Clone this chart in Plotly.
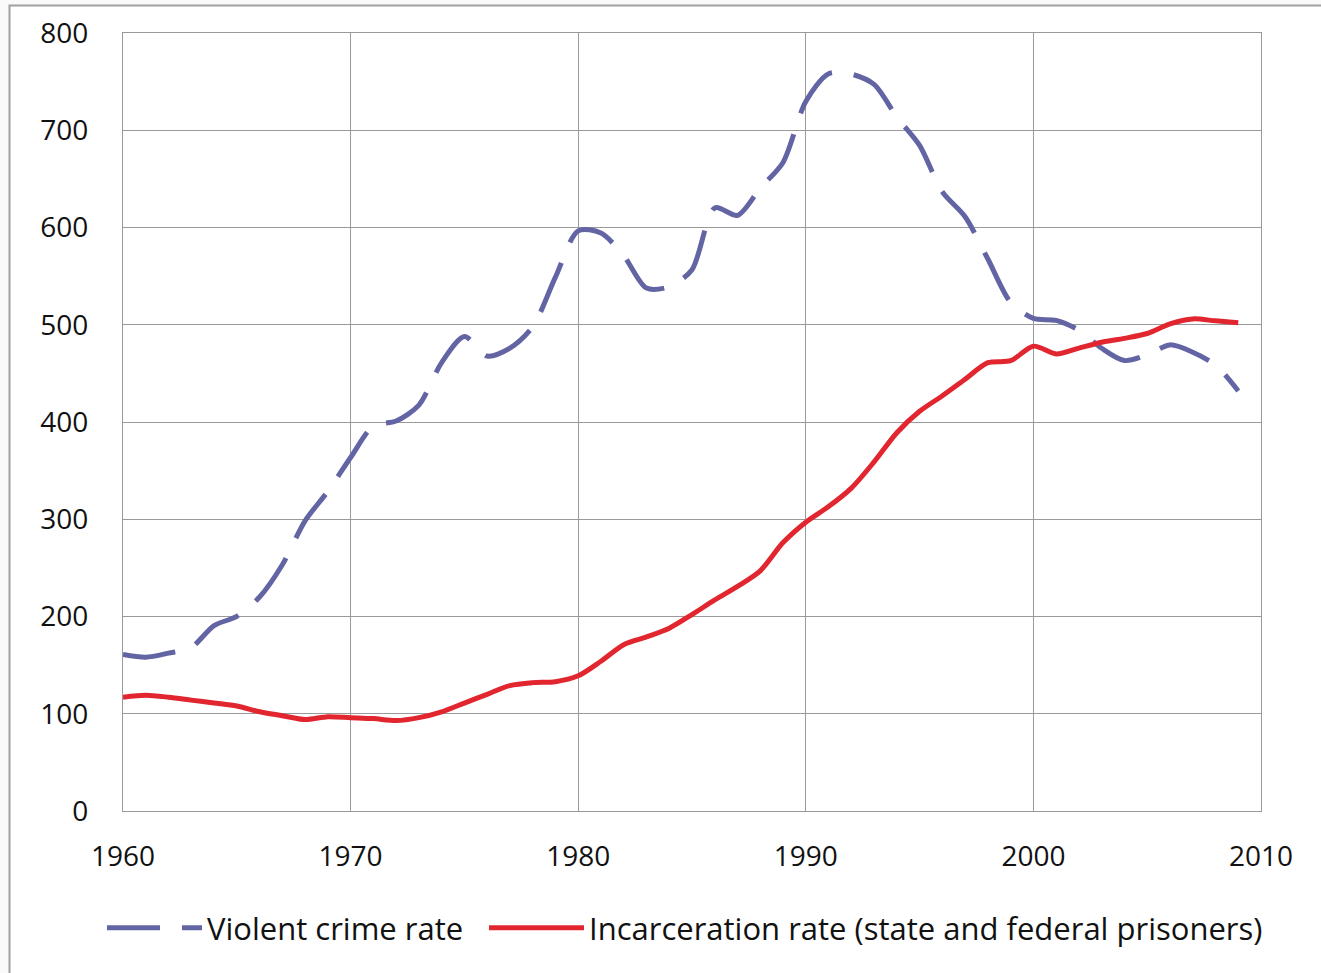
import plotly.graph_objects as go

years = list(range(1960, 2010))
violent_crime = [160.9, 158.1, 162.3, 168.2, 190.6, 200.2, 220.0, 253.2, 298.4, 328.7,
                 363.5, 396.0, 401.0, 417.4, 461.1, 487.8, 467.8, 475.9, 497.8, 548.9,
                 596.6, 594.3, 571.1, 537.7, 539.2, 556.6, 620.1, 612.5, 640.6, 666.9,
                 729.6, 758.2, 757.7, 747.1, 713.6, 684.5, 636.6, 611.0, 567.6, 523.0,
                 506.5, 504.5, 494.4, 475.8, 463.2, 469.0, 479.3, 471.8, 458.6, 431.9]
incarceration = [117, 119, 117, 114, 111, 108, 102, 98, 94, 97,
                 96, 95, 93, 96, 102, 111, 120, 129, 132, 133,
                 139, 154, 171, 179, 188, 202, 217, 231, 247, 276,
                 297, 313, 332, 359, 389, 411, 427, 444, 461, 463,
                 478, 470, 476, 482, 486, 491, 501, 506, 504, 502]
x_ticks = [1960, 1970, 1980, 1990, 2000, 2010]
y_ticks = [0, 100, 200, 300, 400, 500, 600, 700, 800]

FONT = "Open Sans"
W, H = 1321, 973
ML, MR, MT, MB = 123, 60, 33, 162
PW = W - ML - MR
PH = H - MT - MB

fig = go.Figure()
fig.add_trace(go.Scatter(
    x=years, y=violent_crime, mode="lines", name="Violent crime rate",
    line=dict(color="#6264a4", width=5, dash="53px,22px", shape="spline", smoothing=0.8),
    legend="legend",
))
fig.add_trace(go.Scatter(
    x=years, y=incarceration, mode="lines",
    name="Incarceration rate (state and federal prisoners)",
    line=dict(color="#e1262f", width=5, shape="spline", smoothing=0.8),
    legend="legend2",
))

def px_x(p):
    return (p - ML) / PW

def px_y(p):
    return 1 - (p - MT) / PH

# outer frame of the picture
fig.add_shape(type="rect", xref="paper", yref="paper",
              x0=px_x(9.5), x1=px_x(1340), y0=px_y(5.5), y1=px_y(1000),
              line=dict(color="#a0a0a0", width=2), fillcolor="white", layer="below")

legend_common = dict(orientation="h", xanchor="left", y=px_y(928), yanchor="middle",
                     font=dict(family=FONT, size=31, color="#111111"),
                     itemwidth=95, bgcolor="rgba(0,0,0,0)", borderwidth=0)

fig.update_layout(
    width=W, height=H,
    margin=dict(l=ML, r=MR, t=MT, b=MB, autoexpand=False),
    paper_bgcolor="#fafafa", plot_bgcolor="rgba(0,0,0,0)",
    font=dict(family=FONT, size=28, color="#111111"),
    showlegend=True,
    legend=dict(x=px_x(102), **legend_common),
    legend2=dict(x=px_x(484), **legend_common),
)
fig.update_xaxes(range=[1960, 2010], tickvals=x_ticks, ticktext=[str(v) for v in x_ticks],
                 showgrid=True, gridcolor="#9a9a9a", gridwidth=1.3,
                 showline=True, linecolor="#9a9a9a", linewidth=1.3, mirror=True,
                 zeroline=False, ticks="", ticklabelstandoff=20)
fig.update_yaxes(range=[0, 800], tickvals=y_ticks, ticktext=[str(v) for v in y_ticks],
                 showgrid=True, gridcolor="#9a9a9a", gridwidth=1.3,
                 showline=True, linecolor="#9a9a9a", linewidth=1.3, mirror=True,
                 zeroline=False, ticks="", ticklabelstandoff=28)

fig.write_html("out.html", config={"displayModeBar": False},
               post_script="document.body.style.margin='0';document.body.style.overflow='hidden';")
